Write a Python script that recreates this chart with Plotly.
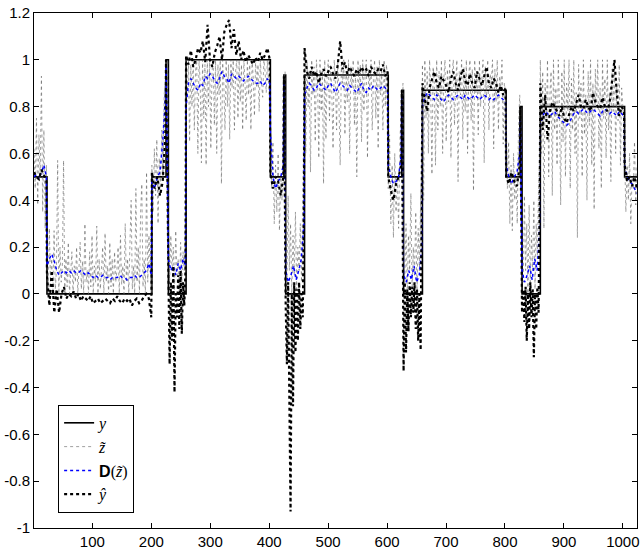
import numpy as np
import plotly.graph_objects as go

# piecewise-constant truth y: (start, end, level)
seg_start = [1, 23, 201, 225, 229, 259, 402, 425, 428, 460, 602, 625, 628, 660, 802, 826, 829, 860, 1003]
seg_end   = [22, 200, 224, 228, 258, 401, 424, 427, 459, 601, 624, 627, 659, 801, 825, 828, 859, 1002, 1024]
seg_level = [0.5, 0.0, 0.5, 1.0, 0.0, 1.0, 0.5, 0.935, 0.0, 0.935, 0.5, 0.87, 0.0, 0.87, 0.5, 0.8, 0.0, 0.8, 0.5]

# noisy observation z~ (per segment)
z_A = [0.62,0.45,0.75,0.38,0.68,0.5,0.93,0.35,0.7,0.28,0.55]
z_B = [0.1,0.0,0.28,0.05,0.15,0.0,0.27,0.02,0.1,0.57,0.0,0.2,0.05,0.12,0.57,0.0,0.15,0.03,0.22,0.0,
       0.08,0.18,0.0,0.12,0.05,0.2,0.0,0.1,0.22,0.02,0.14,0.0,0.3,0.05,0.1,0.0,0.18,0.03,0.25,0.0,
       0.12,0.05,0.29,0.0,0.15,0.02,0.1,0.2,0.0,0.26,0.05,0.12,0.0,0.22,0.03,0.15,0.0,0.18,0.05,0.1,
       0.2,0.0,0.25,0.04,0.12,0.0,0.3,0.05,0.15,0.0,0.22,0.4,0.02,0.12,0.0,0.45,0.05,0.2,0.0,0.35,
       0.47,0.03,0.15,0.0,0.52,0.05,0.25,0.1,0.0]
z_C = [0.55,0.35,0.62,0.42,0.66,0.3,0.58,0.45,0.7,0.5,0.85,0.92]
z_P1 = [0.95,1.0]
z_D = [0.3,0.05,0.25,0.1,0.2,0.0,0.27,0.08,0.15,0.0,0.22,0.05,0.18,0.1,0.35]
z_E = [1.0,0.85,1.0,0.65,0.98,0.8,1.0,0.7,0.95,1.0,0.6,1.0,0.9,0.56,1.0,0.75,0.98,0.55,1.0,0.8,
       1.0,0.62,0.95,1.0,0.72,1.0,0.6,0.98,0.85,1.0,0.47,1.0,0.9,0.7,1.0,0.8,0.98,0.66,1.0,0.88,
       1.0,0.7,0.95,1.0,0.75,1.0,0.82,0.98,0.7,1.0,0.9,0.74,1.0,0.85,0.98,0.7,1.0,0.92,0.76,1.0,
       0.88,0.98,0.78,1.0,0.9,0.84,1.0,0.95,0.86,1.0,0.9,0.8]
z_F = [0.78,0.45,0.65,0.3,0.55,0.35,0.6,0.27,0.5,0.4,0.7]
z_P2 = [0.9,0.95]
z_G = [0.2,0.05,0.42,0.1,0.3,0.0,0.25,0.08,0.35,0.02,0.2,0.1,0.3,0.05,0.4,0.6]
z_H = [0.98,0.6,1.0,0.8,0.95,0.52,1.0,0.85,0.97,0.65,1.0,0.9,0.58,1.0,0.78,0.96,0.47,1.0,0.66,0.93,
       1.0,0.74,0.98,0.85,0.62,1.0,0.9,0.7,1.0,0.8,0.55,0.98,0.9,1.0,0.68,0.95,0.82,1.0,0.6,0.97,
       0.88,1.0,0.72,0.95,0.5,1.0,0.85,0.98,0.65,1.0,0.78,0.94,1.0,0.58,0.96,0.88,1.0,0.7,0.92,1.0,
       0.75,0.97,0.62,1.0,0.85,0.95,0.7,1.0,0.8,0.98,0.9]
z_I = [0.45,0.68,0.3,0.55,0.24,0.6,0.35,0.5,0.28,0.65,0.8]
z_P3 = [0.85,0.9]
z_J = [0.15,0.05,0.3,0.0,0.25,0.1,0.43,0.02,0.2,0.08,0.35,0.0,0.28,0.1,0.4,0.55]
z_K = [0.98,0.4,1.0,0.75,0.95,0.6,1.0,0.85,0.51,0.97,0.9,0.55,1.0,0.7,0.95,0.8,1.0,0.6,0.92,1.0,
       0.65,0.96,0.82,1.0,0.58,0.94,1.0,0.72,0.9,1.0,0.48,0.95,0.85,1.0,0.66,0.97,0.78,1.0,0.6,0.93,
       1.0,0.74,0.96,0.44,1.0,0.86,0.95,0.68,1.0,0.8,0.92,1.0,0.56,0.97,0.84,1.0,0.7,0.94,0.9,1.0,
       0.62,0.96,0.82,1.0,0.7,0.93,0.88,1.0,0.64,0.9,0.86]
z_L = [0.8,0.45,0.65,0.3,0.55,0.27,0.6,0.4,0.5,0.3,0.7,0.85]
z_P4 = [0.8]
z_M = [0.2,0.05,0.42,0.1,0.3,0.0,0.38,0.05,0.25,0.1,0.4,0.02,0.3,0.15,0.45,0.6]
z_N = [1.0,0.6,0.95,0.28,0.9,0.75,1.0,0.5,0.85,0.95,0.42,1.0,0.7,0.88,0.55,1.0,0.8,0.38,0.95,0.65,
       1.0,0.5,0.9,0.78,1.0,0.45,0.92,0.7,1.0,0.6,0.86,0.24,0.98,0.75,0.9,0.5,1.0,0.68,0.85,0.4,
       0.95,0.72,1.0,0.55,0.9,0.36,0.96,0.8,1.0,0.62,0.88,0.45,1.0,0.75,0.92,0.58,1.0,0.7,0.85,0.48,
       0.96,0.78,1.0,0.6,0.9,0.74,0.98,0.55,0.88,0.8,0.72]
z_O = [0.6,0.35,0.55,0.4,0.6,0.3,0.5,0.45,0.65,0.38,0.55]
z_segs = [z_A,z_B,z_C,z_P1,z_D,z_E,z_F,z_P2,z_G,z_H,z_I,z_P3,z_J,z_K,z_L,z_P4,z_M,z_N,z_O]

# denoised D(z~) (per segment)
d_A = [0.5,0.51,0.49,0.52,0.55,0.5]
d_B = [0.12,0.15,0.17,0.14,0.1,0.08,0.09,0.1,0.09,0.1,0.09,0.1,0.09,0.09,0.1,0.09,0.08,0.09,0.08,0.07,
       0.08,0.07,0.07,0.08,0.07,0.07,0.06,0.07,0.07,0.07,0.08,0.07,0.07,0.06,0.07,0.07,0.08,0.07,0.07,0.08,
       0.09,0.1,0.13,0.08]
d_C = [0.48,0.45,0.5,0.52,0.65,0.85]
d_P1 = [0.98]
d_D = [0.15,0.1,0.12,0.08,0.13,0.1,0.15,0.12]
d_E = [0.8,0.9,0.92,0.9,0.88,0.87,0.9,0.89,0.93,0.92,0.94,0.93,0.91,0.9,0.92,0.95,0.93,0.92,0.9,0.94,
       0.93,0.92,0.93,0.92,0.91,0.92,0.93,0.92,0.91,0.9,0.9,0.91,0.89,0.9,0.92,0.9]
d_F = [0.7,0.5,0.45,0.48,0.5,0.55]
d_P2 = [0.9]
d_G = [0.1,0.05,0.08,0.12,0.06,0.1,0.15,0.3]
d_H = [0.85,0.88,0.9,0.89,0.87,0.88,0.9,0.89,0.88,0.87,0.89,0.9,0.88,0.86,0.88,0.9,0.89,0.88,0.87,0.89,
       0.88,0.87,0.86,0.88,0.9,0.87,0.86,0.88,0.87,0.89,0.88,0.87,0.88,0.89,0.88,0.87]
d_I = [0.55,0.5,0.47,0.48,0.5,0.6]
d_P3 = [0.85]
d_J = [0.08,0.05,0.1,0.06,0.12,0.05,0.08,0.2]
d_K = [0.8,0.84,0.86,0.85,0.84,0.83,0.85,0.84,0.83,0.82,0.84,0.85,0.84,0.83,0.84,0.85,0.84,0.83,0.85,0.84,
       0.83,0.84,0.85,0.84,0.83,0.84,0.85,0.84,0.83,0.84,0.83,0.84,0.85,0.84,0.83,0.82]
d_L = [0.55,0.5,0.47,0.5,0.52,0.6]
d_P4 = [0.75]
d_M = [0.1,0.05,0.08,0.12,0.06,0.15,0.1,0.3]
d_N = [0.72,0.76,0.78,0.77,0.76,0.77,0.78,0.76,0.75,0.74,0.73,0.72,0.73,0.75,0.77,0.78,0.77,0.78,0.79,0.78,
       0.77,0.78,0.79,0.78,0.77,0.76,0.78,0.79,0.78,0.77,0.78,0.77,0.76,0.78,0.77,0.76]
d_O = [0.55,0.5,0.48,0.47,0.45,0.43]
d_segs = [d_A,d_B,d_C,d_P1,d_D,d_E,d_F,d_P2,d_G,d_H,d_I,d_P3,d_J,d_K,d_L,d_P4,d_M,d_N,d_O]

# estimate y-hat (per segment)
h_A = [0.52,0.5,0.49,0.53,0.51,0.48]
h_B = [0.08,-0.05,0.1,-0.08,0.02,-0.08,0.0,0.03,-0.02,0.0,-0.01,0.01,-0.02,0.0,-0.03,-0.01,-0.02,-0.03,-0.01,-0.04,
       -0.03,-0.02,-0.04,-0.03,-0.02,-0.03,-0.04,-0.02,-0.03,-0.01,-0.03,-0.04,-0.02,-0.03,-0.02,-0.05,-0.03,-0.02,-0.04,-0.03,
       -0.01,0.0,-0.02,-0.1]
h_C = [0.52,0.45,0.5,0.42,0.48,0.7]
h_P1 = [1.0]
h_D = [0.1,-0.3,0.05,-0.2,0.12,-0.42,0.0,-0.1,0.08,-0.15,0.1,-0.17,0.05,-0.05,0.1]
h_E = [1.02,0.98,1.04,0.97,1.0,1.05,1.03,1.08,0.99,1.15,1.0,0.97,1.03,1.06,1.1,1.0,1.12,1.15,1.17,1.05,
       1.13,1.02,1.08,1.0,1.04,0.99,1.02,1.0,0.98,1.01,0.99,1.03,1.0,1.02,1.05,1.0]
h_F = [0.52,0.45,0.5,0.48,0.42,0.5]
h_P2 = [0.93]
h_G = [-0.05,-0.3,0.05,-0.6,-0.93,0.0,-0.48,0.05,-0.25,0.02,-0.2,0.05,-0.15,0.0,-0.1,0.4]
h_H = [1.05,0.95,0.92,0.97,0.93,0.95,0.9,0.94,0.96,0.93,0.95,0.97,0.94,0.92,0.98,1.08,0.96,0.99,0.94,0.97,
       0.95,0.93,0.96,0.94,0.97,0.95,0.96,0.93,0.97,0.95,0.94,0.96,0.95,0.98,0.93,0.95]
h_I = [0.5,0.44,0.4,0.47,0.5,0.55]
h_P3 = [0.87]
h_J = [-0.33,0.05,-0.25,0.02,-0.16,0.05,-0.1,0.03,-0.08,0.05,-0.15,0.02,-0.2,0.0,-0.24,0.5]
h_K = [0.9,0.83,0.78,0.88,0.92,0.95,0.9,0.88,0.93,0.91,0.89,0.86,0.92,0.95,0.9,0.87,0.93,0.96,0.91,0.89,
       0.94,0.9,0.88,0.95,0.92,0.89,0.93,0.97,0.9,0.88,0.92,0.9,0.86,0.89,0.85,0.88]
h_L = [0.5,0.47,0.52,0.48,0.46,0.55]
h_P4 = [0.8]
h_M = [-0.08,0.02,-0.12,0.03,-0.2,0.0,-0.15,0.05,-0.1,0.02,-0.27,0.0,-0.15,0.03,-0.08,0.4]
h_N = [0.9,0.7,0.85,0.66,0.78,0.82,0.8,0.78,0.76,0.8,0.75,0.73,0.77,0.8,0.78,0.82,0.85,0.8,0.79,0.83,
       0.8,0.78,0.86,0.82,0.8,0.79,0.84,0.8,0.78,0.82,0.9,1.0,0.85,0.76,0.8,0.78]
h_O = [0.55,0.48,0.5,0.46,0.5,0.45]
h_segs = [h_A,h_B,h_C,h_P1,h_D,h_E,h_F,h_P2,h_G,h_H,h_I,h_P3,h_J,h_K,h_L,h_P4,h_M,h_N,h_O]

x_ticks = [100, 200, 300, 400, 500, 600, 700, 800, 900, 1000]
y_ticks = [-1, -0.8, -0.6, -0.4, -0.2, 0, 0.2, 0.4, 0.6, 0.8, 1, 1.2]
y_tick_text = ["-1", "-0.8", "-0.6", "-0.4", "-0.2", "0", "0.2", "0.4", "0.6", "0.8", "1", "1.2"]


def spread(segs):
    xs, vs = [], []
    for s, e, vals in zip(seg_start, seg_end, segs):
        xs.extend(np.linspace(s, e, len(vals)).tolist())
        vs.extend(vals)
    return xs, vs


zx, zv = spread(z_segs)
dx, dv = spread(d_segs)
hx, hv = spread(h_segs)
yx = seg_start + [seg_end[-1]]
yv = seg_level + [seg_level[-1]]

fig = go.Figure()
fig.add_trace(go.Scatter(x=yx, y=yv, mode="lines", line_shape="hv",
                         line=dict(color="black", width=1.6), name="<i>y</i>"))
fig.add_trace(go.Scatter(x=zx, y=zv, mode="lines",
                         line=dict(color="rgb(95,95,95)", width=0.6, dash="dot"),
                         name="<i>z\u0303</i>"))
fig.add_trace(go.Scatter(x=dx, y=dv, mode="lines",
                         line=dict(color="rgb(0,0,255)", width=1.5, dash="dot"),
                         name="<b><span style='font-family:Liberation Sans'>D</span></b>(<i>z\u0303</i>)"))
fig.add_trace(go.Scatter(x=hx, y=hv, mode="lines",
                         line=dict(color="black", width=2.2, dash="dot"),
                         name="<i>y\u0302</i>"))

axis_common = dict(showline=True, linecolor="black", linewidth=1, mirror="ticks",
                   ticks="inside", ticklen=5, tickcolor="black", showgrid=False,
                   zeroline=False, automargin=False,
                   tickfont=dict(family="Liberation Sans", size=15, color="black"))
fig.update_xaxes(range=[1, 1024], tickvals=x_ticks, **axis_common)
fig.update_yaxes(range=[-1, 1.2], tickvals=y_ticks, ticktext=y_tick_text, **axis_common)

fig.update_layout(
    width=640, height=549,
    margin=dict(l=34, r=3, t=13, b=21),
    paper_bgcolor="white", plot_bgcolor="white",
    showlegend=True,
    legend=dict(x=0.04, y=0.239, xanchor="left", yanchor="top",
                bgcolor="white", bordercolor="black", borderwidth=1,
                font=dict(family="Liberation Serif", size=16, color="black"),
                itemwidth=30, tracegroupgap=0),
)

fig.write_html("out.html", config={"displayModeBar": False},
               post_script="document.body.style.margin='0px';document.body.style.overflow='hidden';")
